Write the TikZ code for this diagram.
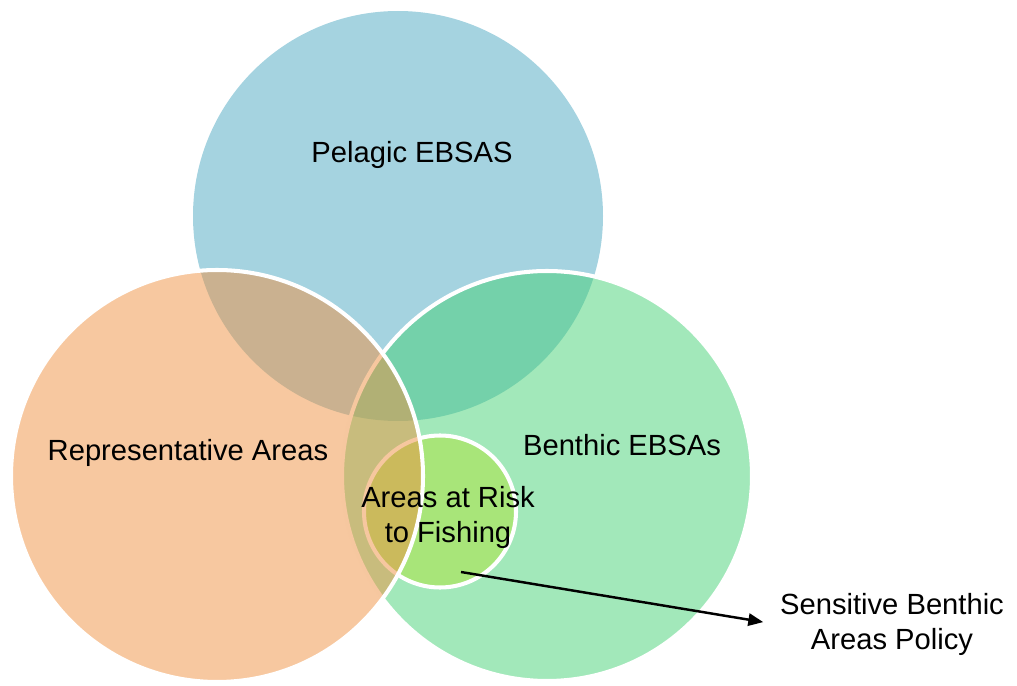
\documentclass[tikz,border=0pt]{standalone}
\usepackage{fontspec}
\setmainfont{Liberation Sans}
\usepackage{xcolor}
\usetikzlibrary{arrows.meta}

\definecolor{pelagicblue}{HTML}{A5D3E0}
\definecolor{benthicgreen}{RGB}{69,209,117}
\definecolor{riskgreen}{RGB}{174,228,58}
\definecolor{reporange}{RGB}{239,145,65}

\begin{document}
\begin{tikzpicture}[
    venn/.style={fill=#1, fill opacity=0.5, draw=white, line width=2.3pt},
    lbl/.style={font=\fontsize{16.6}{19.9}\selectfont, align=center, inner sep=2pt}]
    \useasboundingbox (0,0) rectangle (20.34,13.7);

    % Draw the circles
    \fill[pelagicblue] (7.96,9.38) circle (4.1);
    \filldraw[venn=benthicgreen] (10.94,4.18) circle (4.1);
    \filldraw[venn=riskgreen] (8.80,3.47) circle (1.52);
    \filldraw[venn=reporange] (4.34,4.18) circle (4.12);

    % Label the sets
    \node[lbl, anchor=base] (pel) at (8.24,10.44) {Pelagic EBSAS};
    \node[lbl, anchor=base] (rep) at (3.76,4.50) {Representative Areas};
    \node[lbl, anchor=base] (ben) at (12.44,4.60) {Benthic EBSAs};
    \node[lbl] (risk) at (8.96,3.35) {Areas at Risk\\to Fishing};
    \node[lbl] (policy) at (17.84,1.215) {Sensitive Benthic\\Areas Policy};

    % Arrow to the policy
    \coordinate (tail) at (9.22,2.26);
    \draw[line width=1.4pt, -{Triangle[length=8.5pt,width=7pt]}, shorten >=7.5pt] (tail) -- (policy.west);

\end{tikzpicture}
\end{document}
